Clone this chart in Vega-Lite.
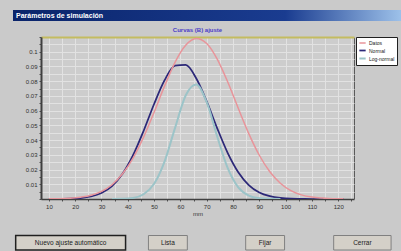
{
  "$schema": "https://vega.github.io/schema/vega-lite/v6.json",
  "background": "#cacaca",
  "padding": {"left": 12, "top": 10, "right": 0, "bottom": 0},
  "spacing": 5,
  "resolve": {
    "scale": {"color": "independent", "strokeWidth": "independent", "x": "independent", "y": "independent"},
    "legend": {"color": "independent", "strokeWidth": "independent"}
  },
  "config": {
    "view": {"stroke": null},
    "font": "Liberation Sans",
    "axis": {"labelFont": "Liberation Sans", "titleFont": "Liberation Sans"}
  },
  "datasets": {
    "barra": [{"titulo": "Parámetros de simulación"}],
    "botones": [
      {"b": "Nuevo ajuste automático"},
      {"b": "Lista"},
      {"b": "Fijar"},
      {"b": "Cerrar"}
    ],
    "curvas": [
      {"x": 10, "y": 0.0000, "serie": "Normal"},
      {"x": 14, "y": 0.0001, "serie": "Normal"},
      {"x": 18, "y": 0.0002, "serie": "Normal"},
      {"x": 22, "y": 0.0006, "serie": "Normal"},
      {"x": 26, "y": 0.0017, "serie": "Normal"},
      {"x": 30, "y": 0.0041, "serie": "Normal"},
      {"x": 34, "y": 0.0088, "serie": "Normal"},
      {"x": 38, "y": 0.0171, "serie": "Normal"},
      {"x": 42, "y": 0.0297, "serie": "Normal"},
      {"x": 46, "y": 0.0462, "serie": "Normal"},
      {"x": 50, "y": 0.0645, "serie": "Normal"},
      {"x": 54, "y": 0.0807, "serie": "Normal"},
      {"x": 58, "y": 0.0905, "serie": "Normal"},
      {"x": 62, "y": 0.0910, "serie": "Normal"},
      {"x": 66, "y": 0.0820, "serie": "Normal"},
      {"x": 70, "y": 0.0663, "serie": "Normal"},
      {"x": 74, "y": 0.0480, "serie": "Normal"},
      {"x": 78, "y": 0.0312, "serie": "Normal"},
      {"x": 82, "y": 0.0182, "serie": "Normal"},
      {"x": 86, "y": 0.0095, "serie": "Normal"},
      {"x": 90, "y": 0.0044, "serie": "Normal"},
      {"x": 94, "y": 0.0019, "serie": "Normal"},
      {"x": 98, "y": 0.0007, "serie": "Normal"},
      {"x": 102, "y": 0.0002, "serie": "Normal"},
      {"x": 106, "y": 0.0001, "serie": "Normal"},
      {"x": 110, "y": 0.0000, "serie": "Normal"},
      {"x": 122, "y": 0.0000, "serie": "Normal"},
      {"x": 10, "y": 0.0001, "serie": "Datos"},
      {"x": 14, "y": 0.0002, "serie": "Datos"},
      {"x": 18, "y": 0.0005, "serie": "Datos"},
      {"x": 22, "y": 0.0012, "serie": "Datos"},
      {"x": 26, "y": 0.0025, "serie": "Datos"},
      {"x": 30, "y": 0.0052, "serie": "Datos"},
      {"x": 34, "y": 0.0097, "serie": "Datos"},
      {"x": 38, "y": 0.0171, "serie": "Datos"},
      {"x": 42, "y": 0.0278, "serie": "Datos"},
      {"x": 46, "y": 0.0420, "serie": "Datos"},
      {"x": 50, "y": 0.0589, "serie": "Datos"},
      {"x": 54, "y": 0.0768, "serie": "Datos"},
      {"x": 58, "y": 0.0930, "serie": "Datos"},
      {"x": 62, "y": 0.1044, "serie": "Datos"},
      {"x": 66, "y": 0.1090, "serie": "Datos"},
      {"x": 70, "y": 0.1056, "serie": "Datos"},
      {"x": 74, "y": 0.0950, "serie": "Datos"},
      {"x": 78, "y": 0.0794, "serie": "Datos"},
      {"x": 82, "y": 0.0616, "serie": "Datos"},
      {"x": 86, "y": 0.0444, "serie": "Datos"},
      {"x": 90, "y": 0.0297, "serie": "Datos"},
      {"x": 94, "y": 0.0185, "serie": "Datos"},
      {"x": 98, "y": 0.0107, "serie": "Datos"},
      {"x": 102, "y": 0.0057, "serie": "Datos"},
      {"x": 106, "y": 0.0028, "serie": "Datos"},
      {"x": 110, "y": 0.0013, "serie": "Datos"},
      {"x": 114, "y": 0.0006, "serie": "Datos"},
      {"x": 118, "y": 0.0002, "serie": "Datos"},
      {"x": 122, "y": 0.0001, "serie": "Datos"},
      {"x": 34, "y": 0.0000, "serie": "Log-normal"},
      {"x": 38, "y": 0.0001, "serie": "Log-normal"},
      {"x": 42, "y": 0.0007, "serie": "Log-normal"},
      {"x": 46, "y": 0.0032, "serie": "Log-normal"},
      {"x": 50, "y": 0.0103, "serie": "Log-normal"},
      {"x": 54, "y": 0.0256, "serie": "Log-normal"},
      {"x": 58, "y": 0.0485, "serie": "Log-normal"},
      {"x": 62, "y": 0.0703, "serie": "Log-normal"},
      {"x": 66, "y": 0.0778, "serie": "Log-normal"},
      {"x": 70, "y": 0.0657, "serie": "Log-normal"},
      {"x": 74, "y": 0.0424, "serie": "Log-normal"},
      {"x": 78, "y": 0.0209, "serie": "Log-normal"},
      {"x": 82, "y": 0.0079, "serie": "Log-normal"},
      {"x": 86, "y": 0.0023, "serie": "Log-normal"},
      {"x": 90, "y": 0.0005, "serie": "Log-normal"},
      {"x": 94, "y": 0.0001, "serie": "Log-normal"},
      {"x": 98, "y": 0.0000, "serie": "Log-normal"}
    ]
  },
  "vconcat": [
    {
      "width": 361,
      "height": 11,
      "data": {"name": "barra"},
      "encoding": {
        "x": {"datum": 0, "type": "quantitative", "axis": null, "scale": {"domain": [0, 1], "range": [-28, 361], "nice": false, "zero": false}}
      },
      "layer": [
        {
          "mark": {
            "type": "rect",
            "fill": {
              "gradient": "linear", "x1": 0, "y1": 0, "x2": 1, "y2": 0,
              "stops": [
                {"offset": 0, "color": "#0a246a"},
                {"offset": 0.7, "color": "#1a3c90"},
                {"offset": 1, "color": "#9ec2ea"}
              ]
            }
          },
          "encoding": {"x2": {"datum": 1}}
        },
        {
          "mark": {"type": "text", "align": "left", "baseline": "middle", "color": "white", "fontWeight": "bold", "fontSize": 7, "dx": 3},
          "encoding": {"text": {"field": "titulo"}}
        }
      ]
    },
    {
      "width": 313,
      "height": 162,
      "view": {"stroke": "#5a5a5a", "strokeWidth": 1, "fill": "#cdcdcd"},
      "title": {"text": "Curvas (B) ajuste", "fontSize": 6, "color": "#4a3cc8", "fontWeight": "bold", "offset": 3},
      "data": {"name": "curvas"},
      "resolve": {"axis": {"x": "independent"}},
      "encoding": {
        "x": {
          "field": "x", "type": "quantitative",
          "scale": {"domain": [7, 126], "nice": false, "zero": false}
        },
        "y": {
          "field": "y", "type": "quantitative",
          "scale": {"domain": [0, 0.11], "nice": false},
          "axis": {
            "values": [0, 0.005, 0.01, 0.015, 0.02, 0.025, 0.03, 0.035, 0.04, 0.045, 0.05, 0.055, 0.06, 0.065, 0.07, 0.075, 0.08, 0.085, 0.09, 0.095, 0.1, 0.105, 0.11],
            "labelExpr": "datum.value > 0 && datum.value < 0.105 && round(datum.value * 1000) % 10 == 0 ? format(datum.value, '.2~f') : ''",
            "title": null, "minExtent": 28,
            "labelFontSize": 6, "labelColor": "#303030", "labelPadding": 2,
            "tickSize": 2, "tickColor": "#505050",
            "gridColor": "#e2e2e2", "domainColor": "#404040", "domainWidth": 2
          }
        }
      },
      "layer": [
        {
          "mark": {"type": "line", "interpolate": "monotone", "clip": true},
          "encoding": {
            "x": {
              "field": "x", "type": "quantitative",
              "axis": {
                "values": [10, 15, 20, 25, 30, 35, 40, 45, 50, 55, 60, 65, 70, 75, 80, 85, 90, 95, 100, 105, 110, 115, 120, 125],
                "labelExpr": "datum.value % 10 == 0 ? datum.label : ''",
                "title": "mm", "titleFontSize": 6, "titleFontWeight": "normal", "titlePadding": 1, "titleColor": "#303030",
                "labelFontSize": 6, "labelColor": "#303030", "labelPadding": 2,
                "tickSize": 2, "tickColor": "#505050",
                "gridColor": "#e2e2e2", "domainColor": "#404040", "domainWidth": 1.5
              }
            },
            "color": {
              "field": "serie", "type": "nominal",
              "scale": {"domain": ["Datos", "Normal", "Log-normal"], "range": ["#e8949a", "#2c2878", "#9cc4c8"]},
              "legend": {
                "title": null, "orient": "right", "offset": 2,
                "fillColor": "white", "strokeColor": "#202020", "padding": 2,
                "labelFontSize": 5, "labelColor": "#202020", "symbolType": "stroke", "symbolSize": 40,
                "symbolStrokeWidth": 1.5, "rowPadding": 0, "labelOffset": 2
              }
            },
            "strokeWidth": {
              "field": "serie", "type": "nominal",
              "scale": {"domain": ["Datos", "Normal", "Log-normal"], "range": [1.5, 2, 1.2]},
              "legend": null
            }
          }
        },
        {
          "mark": {"type": "point", "opacity": 0},
          "encoding": {
            "x": {
              "field": "x", "type": "quantitative",
              "axis": {"orient": "top", "labels": false, "ticks": false, "grid": false, "title": null, "domainColor": "#c4bc60", "domainWidth": 2}
            }
          }
        }
      ]
    },
    {
      "width": 361,
      "height": 28,
      "data": {"name": "botones"},
      "encoding": {
        "x": {"field": "b", "type": "nominal", "sort": null, "axis": null, "scale": {"range": [-19, 370], "paddingInner": 0, "paddingOuter": 0}},
        "y": {"datum": "fila", "type": "nominal", "axis": null, "scale": {"paddingInner": 0, "paddingOuter": 0.466, "align": 1}}
      },
      "layer": [
        {
          "transform": [{"filter": "datum.b == 'Nuevo ajuste automático'"}],
          "mark": {"type": "rect", "width": {"band": 1.13}, "fill": "#d4d0c8", "stroke": "#202020", "strokeWidth": 1.5}
        },
        {
          "transform": [{"filter": "datum.b == 'Lista' || datum.b == 'Fijar'"}],
          "mark": {"type": "rect", "width": {"band": 0.4}, "fill": "#d4d0c8", "stroke": "#808080", "strokeWidth": 1}
        },
        {
          "transform": [{"filter": "datum.b == 'Cerrar'"}],
          "mark": {"type": "rect", "width": {"band": 0.59}, "fill": "#d4d0c8", "stroke": "#808080", "strokeWidth": 1}
        },
        {
          "mark": {"type": "text", "fontSize": 6.5, "color": "#202020"},
          "encoding": {"text": {"field": "b"}}
        }
      ]
    }
  ]
}
